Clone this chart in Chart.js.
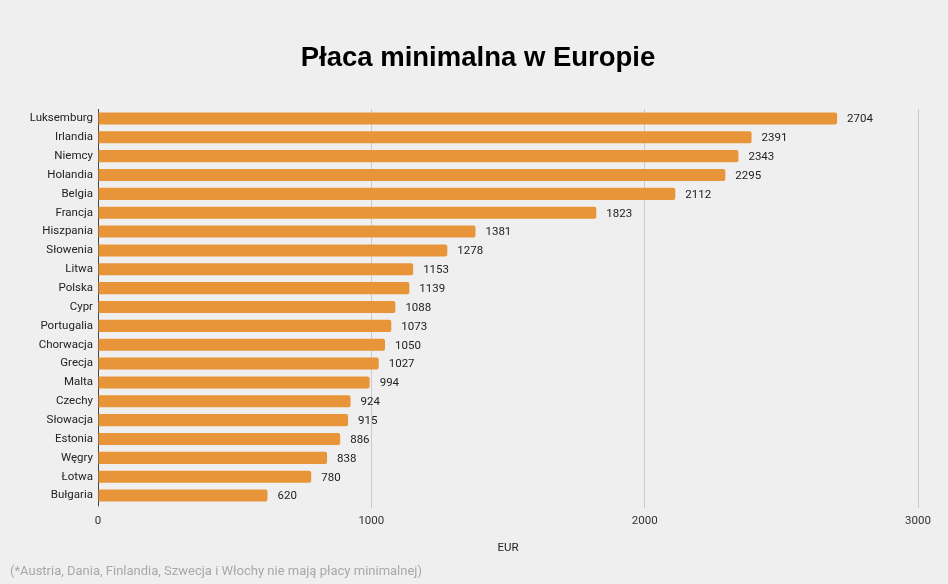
<!DOCTYPE html>
<html>
<head>
<meta charset="utf-8">
<script src="https://cdn.jsdelivr.net/npm/chart.js"></script>
<style>
 body{margin:0;background:#efefef;}
 #wrap{position:relative;width:948px;height:584px;}
 #note{position:absolute;left:10px;top:563px;font:13px Roboto,sans-serif;color:#a8a8a8;}
</style>
</head>
<body>
<div id="wrap">
<canvas id="myChart"></canvas>
<div id="note">(*Austria, Dania, Finlandia, Szwecja i Włochy nie mają płacy minimalnej)</div>
</div>
<script>
// kraje i płaca minimalna (EUR)
var countries = ["Luksemburg","Irlandia","Niemcy","Holandia","Belgia","Francja","Hiszpania","Słowenia","Litwa","Polska","Cypr","Portugalia","Chorwacja","Grecja","Malta","Czechy","Słowacja","Estonia","Węgry","Łotwa","Bułgaria"];
var wages = [2704,2391,2343,2295,2112,1823,1381,1278,1153,1139,1088,1073,1050,1027,994,924,915,886,838,780,620];
var xTicks = [0,1000,2000,3000];

var barColor = "#e8953a";
var chartTitle = "Płaca minimalna w Europie";

// tytul rysowany recznie, zeby byl wysrodkowany jak w oryginale
var titlePlugin = {
  id: "titlePlugin",
  afterDraw(chart){
    var ctx = chart.ctx;
    ctx.save();
    ctx.font = "bold 27.5px 'Liberation Sans', Arial, sans-serif";
    ctx.fillStyle = "#000";
    ctx.textAlign = "center";
    ctx.textBaseline = "middle";
    ctx.fillText(chartTitle, 478, 58);
    ctx.restore();
  }
};

// wartosci przy koncu slupkow
var valueLabels = {
  id: "valueLabels",
  afterDatasetsDraw(chart){
    var ctx = chart.ctx;
    var meta = chart.getDatasetMeta(0);
    ctx.save();
    ctx.font = "11.5px Roboto, sans-serif";
    ctx.fillStyle = "#222";
    ctx.textAlign = "left";
    ctx.textBaseline = "middle";
    meta.data.forEach(function(bar, i){
      ctx.fillText(wages[i], bar.x + 10, bar.y + 1);
    });
    ctx.restore();
  }
};

new Chart("myChart", {
  type: "bar",
  data: {
    labels: countries,
    datasets: [{
      data: wages,
      backgroundColor: barColor,
      borderRadius: 2,
      barPercentage: 0.64,
      categoryPercentage: 1
    }]
  },
  plugins: [valueLabels, titlePlugin],
  options: {
    indexAxis: "y",
    responsive: true,
    maintainAspectRatio: false,
    animation: false,
    layout: { padding: { left: 0, right: 30, top: 109, bottom: 25 } },
    plugins: {
      legend: { display: false },
      tooltip: { enabled: false },
      title: { display: false }
    },
    scales: {
      x: {
        min: 0,
        max: 3000,
        afterBuildTicks(scale){ scale.ticks = xTicks.map(function(v){ return {value: v}; }); },
        afterFit(scale){ scale.height = 54; },
        grid: { color: "#cccccc", drawTicks: true, tickLength: 3, tickColor: "#cccccc" },
        border: { display: false },
        ticks: {
          color: "#333",
          font: { family: "Roboto, sans-serif", size: 11.5 },
          padding: 6,
          callback: function(v){ return String(v); }
        },
        title: { display: true, text: "EUR", color: "#222", font: { family: "Roboto, sans-serif", size: 11.5 }, padding: { top: 14, bottom: 4 } }
      },
      y: {
        afterFit(scale){ scale.width = 98; },
        grid: { display: false, drawTicks: false },
        border: { display: true, color: "#444", width: 1 },
        ticks: { color: "#222", font: { family: "Roboto, sans-serif", size: 11.5 }, padding: 5, autoSkip: false }
      }
    }
  }
});
</script>
</body>
</html>
